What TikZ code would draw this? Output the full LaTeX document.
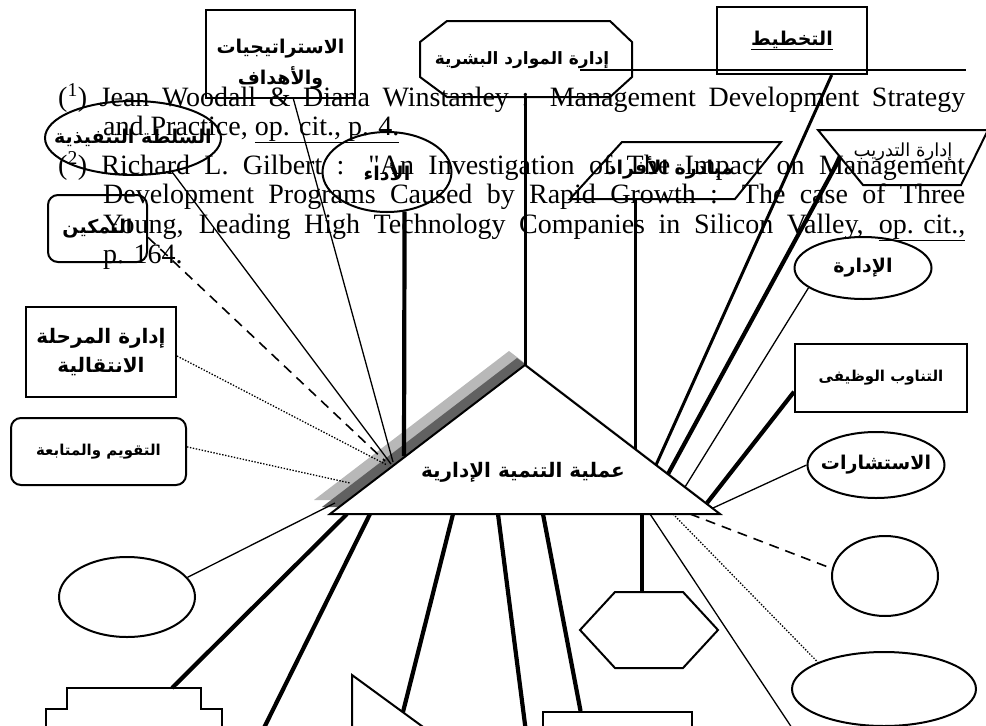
\documentclass[tikz,border=0pt]{standalone}
\usepackage{fontspec}
\setmainfont{Liberation Serif}[Ligatures=TeXOff]
\newfontfamily\arabicfont[Script=Arabic]{DejaVu Sans}
\TeXXeTstate=1
\usetikzlibrary{shapes.geometric}
\newcommand{\artxt}[1]{\beginR#1\endR}
\definecolor{shadelight}{gray}{0.72}
\definecolor{shadedark}{gray}{0.38}
\tikzstyle{box}=[rectangle, draw, line width=2pt, inner sep=0pt]
\tikzstyle{rbox}=[rectangle, draw, rounded corners=10pt, line width=2pt, inner sep=0pt]
\tikzstyle{oval}=[ellipse, draw, line width=2pt, inner sep=0pt]
\tikzstyle{outline}=[line width=2pt]
\tikzstyle{arbig}=[font=\arabicfont\bfseries\fontsize{19}{23}\selectfont]
\tikzstyle{arlarge}=[font=\arabicfont\bfseries\fontsize{20}{24}\selectfont]
\tikzstyle{armid}=[font=\arabicfont\bfseries\fontsize{17}{20}\selectfont]
\tikzstyle{arsmall}=[font=\arabicfont\bfseries\fontsize{15}{18}\selectfont]
\tikzstyle{arthin}=[font=\arabicfont\fontsize{18}{21}\selectfont]
\tikzstyle{note}=[anchor=base west, inner sep=0pt, font=\fontsize{28}{29}\selectfont]
\tikzstyle{thickline}=[line width=4.2pt]
\tikzstyle{midline}=[line width=3pt]
\tikzstyle{thinline}=[line width=1.3pt]
\tikzstyle{dashline}=[line width=1.6pt, dash pattern=on 10pt off 7pt]
\tikzstyle{dotline}=[line width=1.3pt, dash pattern=on 1.4pt off 1.6pt]

\begin{document}
\begin{tikzpicture}[x=1pt,y=-1pt]
  \useasboundingbox (0,0) rectangle (986,726);

  \node[note] (fnA) at (58,106) {\makebox[907pt][s]{(\textsuperscript{1}) Jean Woodall \& Diana Winstanley : Management Development Strategy}};
  \node[note] (fnB) at (103,135) {and Practice, \underline{op. cit., p. 4.}};
  \node[note] (fnC) at (58,174) {\makebox[907pt][s]{(\textsuperscript{2}) Richard L. Gilbert : "An Investigation of The Impact on Management}};
  \node[note] (fnD) at (103,203) {\makebox[862pt][s]{Development Programs Caused by Rapid Growth : The case of Three}};
  \node[note] (fnE) at (103,233) {\makebox[862pt][s]{Young, Leading High Technology Companies in Silicon Valley, \underline{op. cit.,}}};
  \node[note] (fnF) at (103,263) {p. 164.};
  \draw[line width=1.6pt] (580,70) -- (966,70);

  \node[box, minimum width=149pt, minimum height=88pt, label={[arbig, align=center, yshift=-10pt]center:\artxt{الاستراتيجيات}\\[8pt]\artxt{والأهداف}}] (strat) at (280.5,54) {};
  \draw[outline] (447,21) -- (610,21) -- (632,42) -- (632,77) -- (610,97) -- (447,97) -- (420,77) -- (420,42) -- cycle;
  \node[armid] (hrm) at (522,60) {\artxt{إدارة الموارد البشرية}};
  \node[box, minimum width=150pt, minimum height=67pt, arbig] (takhtit) at (792,40.5) {\underline{\artxt{التخطيط}}};
  \node[oval, minimum width=176pt, minimum height=74pt, label={[arbig]center:{\artxt{السلطة التنفيذية}}}] (sulta) at (133,138) {};
  \node[oval, minimum width=129pt, minimum height=80pt, label={[arbig]center:\artxt{الأداء}}] (adaa) at (387,172) {};
  \node[rbox, minimum width=99pt, minimum height=67pt, arbig] (tamkin) at (97.5,228.5) {\artxt{التمكين}};
  \draw[outline] (622,142) -- (781,142) -- (735,199) -- (570,199) -- cycle;
  \node[arbig] (mubadara) at (670,168) {\artxt{مبادرة الأفراد}};
  \draw[outline] (818,130) -- (988,130) -- (961,185) -- (863,185) -- cycle;
  \node[arthin] (tadrib) at (903,152) {\artxt{إدارة التدريب}};
  \node[oval, minimum width=137pt, minimum height=62pt, label={[arbig]center:\artxt{الإدارة}}] (idara) at (863,268) {};
  \node[box, minimum width=172pt, minimum height=68pt, arsmall] (tanawob) at (881,378) {\artxt{التناوب الوظيفى}};
  \node[oval, minimum width=137pt, minimum height=66pt, label={[arbig]center:\artxt{الاستشارات}}] (istish) at (876,465) {};
  \node[box, minimum width=150pt, minimum height=90pt, arlarge, align=center] (marhala) at (101,352) {\artxt{إدارة المرحلة}\\[5pt]\artxt{الانتقالية}};
  \node[rbox, minimum width=175pt, minimum height=67pt, arsmall] (taqwim) at (98.5,451.5) {\artxt{التقويم والمتابعة}};
  \node[oval, minimum width=136pt, minimum height=80pt] (ovalL) at (127,597) {};
  \node[oval, minimum width=106pt, minimum height=80pt] (ovalR) at (885,576) {};
  \node[oval, minimum width=184pt, minimum height=74pt] (ovalB) at (884,689) {};
  \draw[outline] (46,740) -- (46,709) -- (67,709) -- (67,688) -- (201,688) -- (201,709) -- (222,709) -- (222,740);
  \draw[outline] (352,740) -- (352,675) -- (445,743);
  \node[box, minimum width=149pt, minimum height=60pt] (rectB) at (617.5,742) {};
  \draw[outline] (580,630) -- (615,592) -- (683,592) -- (718,630) -- (683,668) -- (615,668) -- cycle;

  \coordinate (hrmB) at (525,97);
  \coordinate (mubB) at (635,199);
  \coordinate (tadribL) at (840,158);
  \coordinate (stepT) at (172,688);
  \coordinate (triS) at (403,712);
  \coordinate (hexT) at (642,592);
  \coordinate (apex) at (525,365);
  \coordinate (eSulta) at (391,464);
  \coordinate (eStrat) at (393,462);
  \coordinate (eTamkin) at (385,461);
  \coordinate (eAdaa) at (404,456);
  \coordinate (eMarhala) at (387,465);
  \coordinate (eTaqwim) at (350,483);
  \coordinate (eMub) at (635,449);
  \coordinate (eTakhtit) at (656,465);
  \coordinate (eTadrib) at (668,474);
  \coordinate (eIdara) at (685,487);
  \coordinate (eTanawob) at (707,503);
  \coordinate (eIstish) at (713,508);
  \coordinate (bDash) at (690,514);
  \coordinate (bDot) at (673,514);
  \coordinate (bThin) at (650,514);
  \coordinate (bHex) at (642,514);
  \coordinate (bRect) at (543,514);
  \coordinate (bDown) at (498,514);
  \coordinate (bTri) at (453,514);
  \coordinate (bOff) at (370,514);
  \coordinate (bStep) at (347,514);
  \coordinate (bOval) at (335,503);
  \coordinate (offA) at (800,740);
  \coordinate (offB) at (258,740);
  \coordinate (offC) at (527,740);

  \fill[shadelight] (509,351) -- (314,500) -- (704,500) -- cycle;
  \fill[shadedark] (517,358) -- (322,507) -- (712,507) -- cycle;

  \draw[thinline] (sulta.-41) -- (eSulta);
  \draw[thinline] (strat.-74) -- (eStrat);
  \draw[dashline] (tamkin.-10) -- (eTamkin);
  \draw[thickline] (adaa.-66) -- (eAdaa);
  \draw[dotline] (marhala.-3) -- (eMarhala);
  \draw[dotline] (taqwim.3) -- (eTaqwim);
  \draw[midline] (hrmB) -- (apex);
  \draw[midline] (mubB) -- (eMub);
  \draw[midline] (takhtit.-41) -- (eTakhtit);
  \draw[thickline] (tadribL) -- (eTadrib);
  \draw[thinline] (idara.-160) -- (eIdara);
  \draw[thickline] (tanawob.189) -- (eTanawob);
  \draw[thinline] (istish.west) -- (eIstish);
  \draw[dashline] (bDash) -- (ovalR.172);
  \draw[dotline] (bDot) -- (ovalB.158);
  \draw[thinline] (bThin) -- (offA);
  \draw[thickline] (bStep) -- (stepT);
  \draw[thickline] (bOff) -- (offB);
  \draw[thickline] (bTri) -- (triS);
  \draw[thickline] (bDown) -- (offC);
  \draw[thickline] (bRect) -- (rectB.140);
  \draw[thickline] (bHex) -- (hexT);
  \draw[thinline] (ovalL.18) -- (bOval);

  \draw[outline, fill=white] (apex) -- (330,514) -- (720,514) -- cycle;
  \node[arlarge] (proc) at (523,472) {\artxt{عملية التنمية الإدارية}};
\end{tikzpicture}
\end{document}
